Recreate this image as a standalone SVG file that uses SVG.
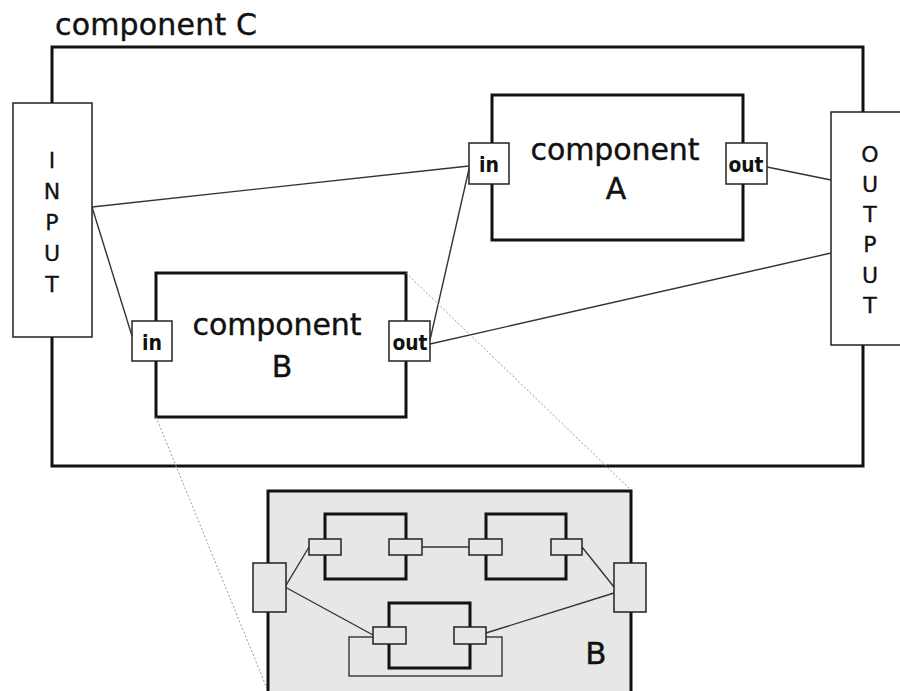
<svg xmlns="http://www.w3.org/2000/svg" width="900" height="691" viewBox="0 0 900 691">
  <style>
    .thick { fill: #ffffff; stroke: #111111; stroke-width: 3; }
    .io { fill: #ffffff; stroke: #222222; stroke-width: 1.5; }
    .port { fill: #ffffff; stroke: #222222; stroke-width: 1.5; }
    .wire { stroke: #333333; stroke-width: 1.4; fill: none; }
    .zoomline { stroke: #9a9a9a; stroke-width: 1; stroke-dasharray: 2 2; fill: none; }
    .label { font-family: "DejaVu Sans", "Liberation Sans", sans-serif; fill: #111111; text-anchor: middle; }
    .big { font-size: 30px; stroke: #111111; stroke-width: 0.4; }
    .io-letter { font-size: 22px; stroke: #111111; stroke-width: 0.3; }
    .port-text { font-size: 21px; font-weight: bold; }
    .inset { fill: #e7e7e7; stroke: #111111; stroke-width: 3; }
    .inset-comp { fill: #e7e7e7; stroke: #111111; stroke-width: 3; }
    .inset-port { fill: #e7e7e7; stroke: #222222; stroke-width: 1.5; }
  </style>

  <rect width="900" height="691" fill="#ffffff"/>

  <!-- outer composite -->
  <g id="component-C">
    <rect class="thick" x="52" y="47" width="811" height="419"/>
    <text class="label big" x="156" y="35" textLength="202" lengthAdjust="spacing">component C</text>
  </g>

  <g id="input">
    <rect class="io" x="13" y="103" width="79" height="234"/>
    <text class="label io-letter" x="52" y="168">I</text>
    <text class="label io-letter" x="52" y="199">N</text>
    <text class="label io-letter" x="52" y="230">P</text>
    <text class="label io-letter" x="52" y="261">U</text>
    <text class="label io-letter" x="52" y="292">T</text>
  </g>

  <g id="output">
    <rect class="io" x="831" y="112" width="80" height="233"/>
    <text class="label io-letter" x="870" y="162">O</text>
    <text class="label io-letter" x="870" y="192">U</text>
    <text class="label io-letter" x="870" y="222">T</text>
    <text class="label io-letter" x="870" y="252">P</text>
    <text class="label io-letter" x="870" y="283">U</text>
    <text class="label io-letter" x="870" y="313">T</text>
  </g>

  <g id="component-A">
    <rect class="thick" x="492" y="95" width="251" height="145"/>
    <text class="label big" x="615" y="160" textLength="169" lengthAdjust="spacing">component</text>
    <text class="label big" x="616" y="199">A</text>
    <rect class="port" x="469" y="143" width="40" height="41"/>
    <text class="label port-text" x="489" y="172" textLength="20" lengthAdjust="spacingAndGlyphs">in</text>
    <rect class="port" x="726" y="143" width="41" height="41"/>
    <text class="label port-text" x="746" y="172" textLength="35" lengthAdjust="spacingAndGlyphs">out</text>
  </g>

  <g id="component-B">
    <rect class="thick" x="156" y="273" width="250" height="144"/>
    <text class="label big" x="277" y="335" textLength="169" lengthAdjust="spacing">component</text>
    <text class="label big" x="282" y="377">B</text>
    <rect class="port" x="132" y="321" width="40" height="40"/>
    <text class="label port-text" x="152" y="350" textLength="20" lengthAdjust="spacingAndGlyphs">in</text>
    <rect class="port" x="389" y="321" width="41" height="40"/>
    <text class="label port-text" x="410" y="350" textLength="35" lengthAdjust="spacingAndGlyphs">out</text>
  </g>

  <!-- wiring inside component C -->
  <g id="connectors">
    <line class="wire" x1="92" y1="207" x2="469" y2="166"/>
    <line class="wire" x1="92" y1="207" x2="132" y2="336"/>
    <line class="wire" x1="767" y1="167" x2="831" y2="180"/>
    <line class="wire" x1="430" y1="344" x2="831" y2="253"/>
    <line class="wire" x1="469" y1="169" x2="430" y2="340"/>
  </g>

  <!-- detail view of component B -->
  <g id="zoom-lines">
    <line class="zoomline" x1="406" y1="273" x2="631" y2="490"/>
    <line class="zoomline" x1="156" y1="417" x2="268" y2="691"/>
  </g>

  <g id="detail-B">
    <rect class="inset" x="268" y="491" width="363" height="204"/>
    <text class="label" x="596" y="664" font-size="31" stroke="#111111" stroke-width="0.4">B</text>

    <g id="detail-wires">
      <line class="wire" x1="422" y1="547" x2="469" y2="547"/>
      <line class="wire" x1="285" y1="587" x2="309" y2="547"/>
      <line class="wire" x1="285" y1="587" x2="373" y2="635"/>
      <line class="wire" x1="582" y1="547" x2="614" y2="587"/>
      <line class="wire" x1="486" y1="633" x2="614" y2="593"/>
      <rect class="wire" x="349" y="637" width="153" height="39"/>
    </g>

    <g id="detail-comp-1">
      <rect class="inset-comp" x="325" y="514" width="81" height="65"/>
      <rect class="inset-port" x="309" y="539" width="32" height="16"/>
      <rect class="inset-port" x="389" y="539" width="33" height="16"/>
    </g>
    <g id="detail-comp-2">
      <rect class="inset-comp" x="486" y="514" width="80" height="65"/>
      <rect class="inset-port" x="469" y="539" width="33" height="16"/>
      <rect class="inset-port" x="551" y="539" width="31" height="16"/>
    </g>
    <g id="detail-comp-3">
      <rect class="inset-comp" x="389" y="603" width="81" height="65"/>
      <rect class="inset-port" x="373" y="627" width="33" height="17"/>
      <rect class="inset-port" x="454" y="627" width="32" height="17"/>
    </g>
    <g id="detail-in">
      <rect class="inset-port" x="253" y="563" width="33" height="49"/>
    </g>
    <g id="detail-out">
      <rect class="inset-port" x="614" y="563" width="32" height="49"/>
    </g>
  </g>
</svg>
